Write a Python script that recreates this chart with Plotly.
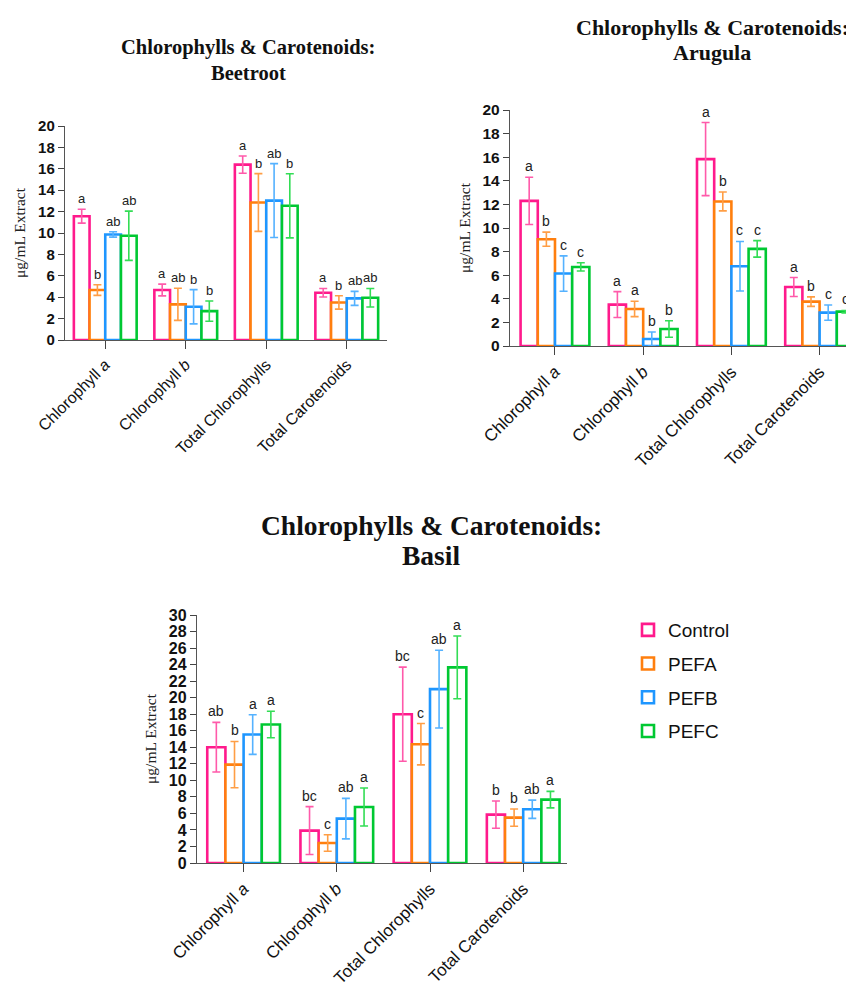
import plotly.graph_objects as go

categories = ["Chlorophyll <i>a</i>", "Chlorophyll <i>b</i>", "Total Chlorophylls", "Total Carotenoids"]
series = ["Control", "PEFA", "PEFB", "PEFC"]

# Beetroot
beet_control = [11.57, 4.67, 16.39, 4.42]
beet_pefa = [4.67, 3.33, 12.85, 3.51]
beet_pefb = [9.86, 3.11, 13.03, 3.89]
beet_pefc = [9.74, 2.70, 12.54, 3.95]
beet_control_err = [0.65, 0.55, 0.80, 0.40]
beet_pefa_err = [0.50, 1.50, 2.70, 0.62]
beet_pefb_err = [0.25, 1.60, 3.45, 0.65]
beet_pefc_err = [2.30, 0.95, 3.00, 0.87]
beet_control_lbl = ["a", "a", "a", "a"]
beet_pefa_lbl = ["b", "ab", "b", "b"]
beet_pefb_lbl = ["ab", "b", "ab", "ab"]
beet_pefc_lbl = ["ab", "b", "b", "ab"]

# Arugula
aru_control = [12.30, 3.51, 15.84, 5.00]
aru_pefa = [9.05, 3.14, 12.25, 3.76]
aru_pefb = [6.14, 0.59, 6.76, 2.83]
aru_pefc = [6.70, 1.44, 8.23, 2.91]
aru_control_err = [2.00, 1.10, 3.10, 0.80]
aru_pefa_err = [0.60, 0.65, 0.80, 0.40]
aru_pefb_err = [1.50, 0.60, 2.10, 0.65]
aru_pefc_err = [0.35, 0.70, 0.70, 0.10]
aru_control_lbl = ["a", "a", "a", "a"]
aru_pefa_lbl = ["b", "a", "b", "b"]
aru_pefb_lbl = ["c", "b", "c", "c"]
aru_pefc_lbl = ["c", "b", "c", "c"]

# Basil
bas_control = [14.01, 3.92, 18.00, 5.85]
bas_pefa = [11.90, 2.42, 14.37, 5.49]
bas_pefb = [15.54, 5.37, 21.03, 6.50]
bas_pefc = [16.75, 6.78, 23.66, 7.67]
bas_control_err = [3.00, 2.90, 5.70, 1.65]
bas_pefa_err = [2.80, 1.00, 2.50, 1.05]
bas_pefb_err = [2.40, 2.45, 4.70, 1.10]
bas_pefc_err = [1.60, 2.30, 3.80, 1.00]
bas_control_lbl = ["ab", "bc", "bc", "b"]
bas_pefa_lbl = ["b", "c", "c", "b"]
bas_pefb_lbl = ["a", "ab", "ab", "ab"]
bas_pefc_lbl = ["a", "a", "a", "a"]

line_colors = ["#FF1A8C", "#FF7F0E", "#1E96FF", "#00C832"]
err_colors = ["#FF5AAA", "#FF9E45", "#55B2FF", "#33DD55"]

# page has an 8px body margin: figure occupies 8..854 x 8..989
OFF = 8
W, H = 854 - OFF, 989 - OFF


def px(x):
    return (x - OFF) / W


def py(y):
    return 1 - (y - OFF) / H


panels = [
    dict(name="Beetroot", vals=[beet_control, beet_pefa, beet_pefb, beet_pefc],
         errs=[beet_control_err, beet_pefa_err, beet_pefb_err, beet_pefc_err],
         lbls=[beet_control_lbl, beet_pefa_lbl, beet_pefb_lbl, beet_pefc_lbl],
         xd=[px(65), px(387)], yd=[py(340), py(126)], xr=[-0.5, 3.5], yr=[0, 20],
         tick=15, cat=16, let=13, ttl=20.5, tx=px(248), ty1=py(48), ty2=py(73)),
    dict(name="Arugula", vals=[aru_control, aru_pefa, aru_pefb, aru_pefc],
         errs=[aru_control_err, aru_pefa_err, aru_pefb_err, aru_pefc_err],
         lbls=[aru_control_lbl, aru_pefa_lbl, aru_pefb_lbl, aru_pefc_lbl],
         xd=[px(510), 1.0], yd=[py(346), py(110)], xr=[-0.51, 3.39], yr=[0, 20],
         tick=15.5, cat=17, let=14, ttl=22, tx=px(712), ty1=py(27), ty2=py(53)),
    dict(name="Basil", vals=[bas_control, bas_pefa, bas_pefb, bas_pefc],
         errs=[bas_control_err, bas_pefa_err, bas_pefb_err, bas_pefc_err],
         lbls=[bas_control_lbl, bas_pefa_lbl, bas_pefb_lbl, bas_pefc_lbl],
         xd=[px(197), px(567)], yd=[py(863), py(615)], xr=[-0.5, 3.47], yr=[0, 30],
         tick=16, cat=17, let=14, ttl=27.5, tx=px(431), ty1=py(525), ty2=py(555)),
]

fig = go.Figure()
annotations = []
bar_w = 0.78 / 4
xpos = list(range(len(categories)))

for p_i, p in enumerate(panels):
    sfx = "" if p_i == 0 else str(p_i + 1)
    for j, s in enumerate(series):
        fig.add_trace(go.Bar(
            x=xpos, y=p["vals"][j], name=s,
            xaxis="x" + sfx, yaxis="y" + sfx,
            marker=dict(color="white", line=dict(color=line_colors[j], width=2.6)),
            error_y=dict(type="data", array=p["errs"][j], symmetric=True,
                         color=err_colors[j], thickness=1.6, width=4),
            legendgroup=s, showlegend=(p_i == 0),
        ))
        for i in range(len(categories)):
            annotations.append(dict(
                x=i + (j - 1.5) * bar_w, y=p["vals"][j][i] + p["errs"][j][i],
                xref="x" + sfx, yref="y" + sfx, text=p["lbls"][j][i], showarrow=False,
                yanchor="bottom", yshift=1,
                font=dict(family="Liberation Sans, Arial", size=p["let"], color="#222")))
    annotations.append(dict(x=p["tx"], y=p["ty1"], xref="paper", yref="paper",
                            text="<b>Chlorophylls &amp; Carotenoids:</b>", showarrow=False,
                            yanchor="middle", xanchor="center",
                            font=dict(family="Liberation Serif, Times New Roman", size=p["ttl"], color="#111")))
    annotations.append(dict(x=p["tx"], y=p["ty2"], xref="paper", yref="paper",
                            text="<b>" + p["name"] + "</b>", showarrow=False,
                            yanchor="middle", xanchor="center",
                            font=dict(family="Liberation Serif, Times New Roman", size=p["ttl"], color="#111")))
    fig.layout["xaxis" + sfx] = dict(
        domain=p["xd"], range=p["xr"], anchor="y" + sfx,
        tickvals=xpos, ticktext=categories, tickangle=-45,
        ticks="outside", ticklen=8, tickwidth=1.3, tickcolor="#444",
        showline=True, linecolor="#555", linewidth=1.4, showgrid=False, zeroline=False,
        tickfont=dict(family="Liberation Sans, Arial", size=p["cat"], color="#111"),
        automargin=False, fixedrange=True)
    fig.layout["yaxis" + sfx] = dict(
        domain=p["yd"], range=p["yr"], anchor="x" + sfx, dtick=2,
        ticks="outside", ticklen=6, tickwidth=1.3, tickcolor="#444",
        showline=True, linecolor="#555", linewidth=1.4, showgrid=False, zeroline=False,
        tickfont=dict(family="Liberation Sans, Arial", size=p["tick"], color="#111", weight="bold"),
        title=dict(text="μg/mL Extract", standoff=8,
                   font=dict(family="Liberation Serif, Times New Roman", size=15.5, color="#222")),
        automargin=False, fixedrange=True)

fig.update_layout(
    width=W, height=H,
    margin=dict(l=0, r=0, t=0, b=0),
    paper_bgcolor="white", plot_bgcolor="white",
    barmode="group", bargap=0.22, bargroupgap=0,
    annotations=annotations,
    showlegend=True,
    legend=dict(x=px(628), y=py(611), xanchor="left", yanchor="top",
                traceorder="grouped", tracegroupgap=6,
                font=dict(family="Liberation Sans, Arial", size=19, color="#111"),
                bgcolor="rgba(0,0,0,0)"),
)

fig.write_html("out.html")
